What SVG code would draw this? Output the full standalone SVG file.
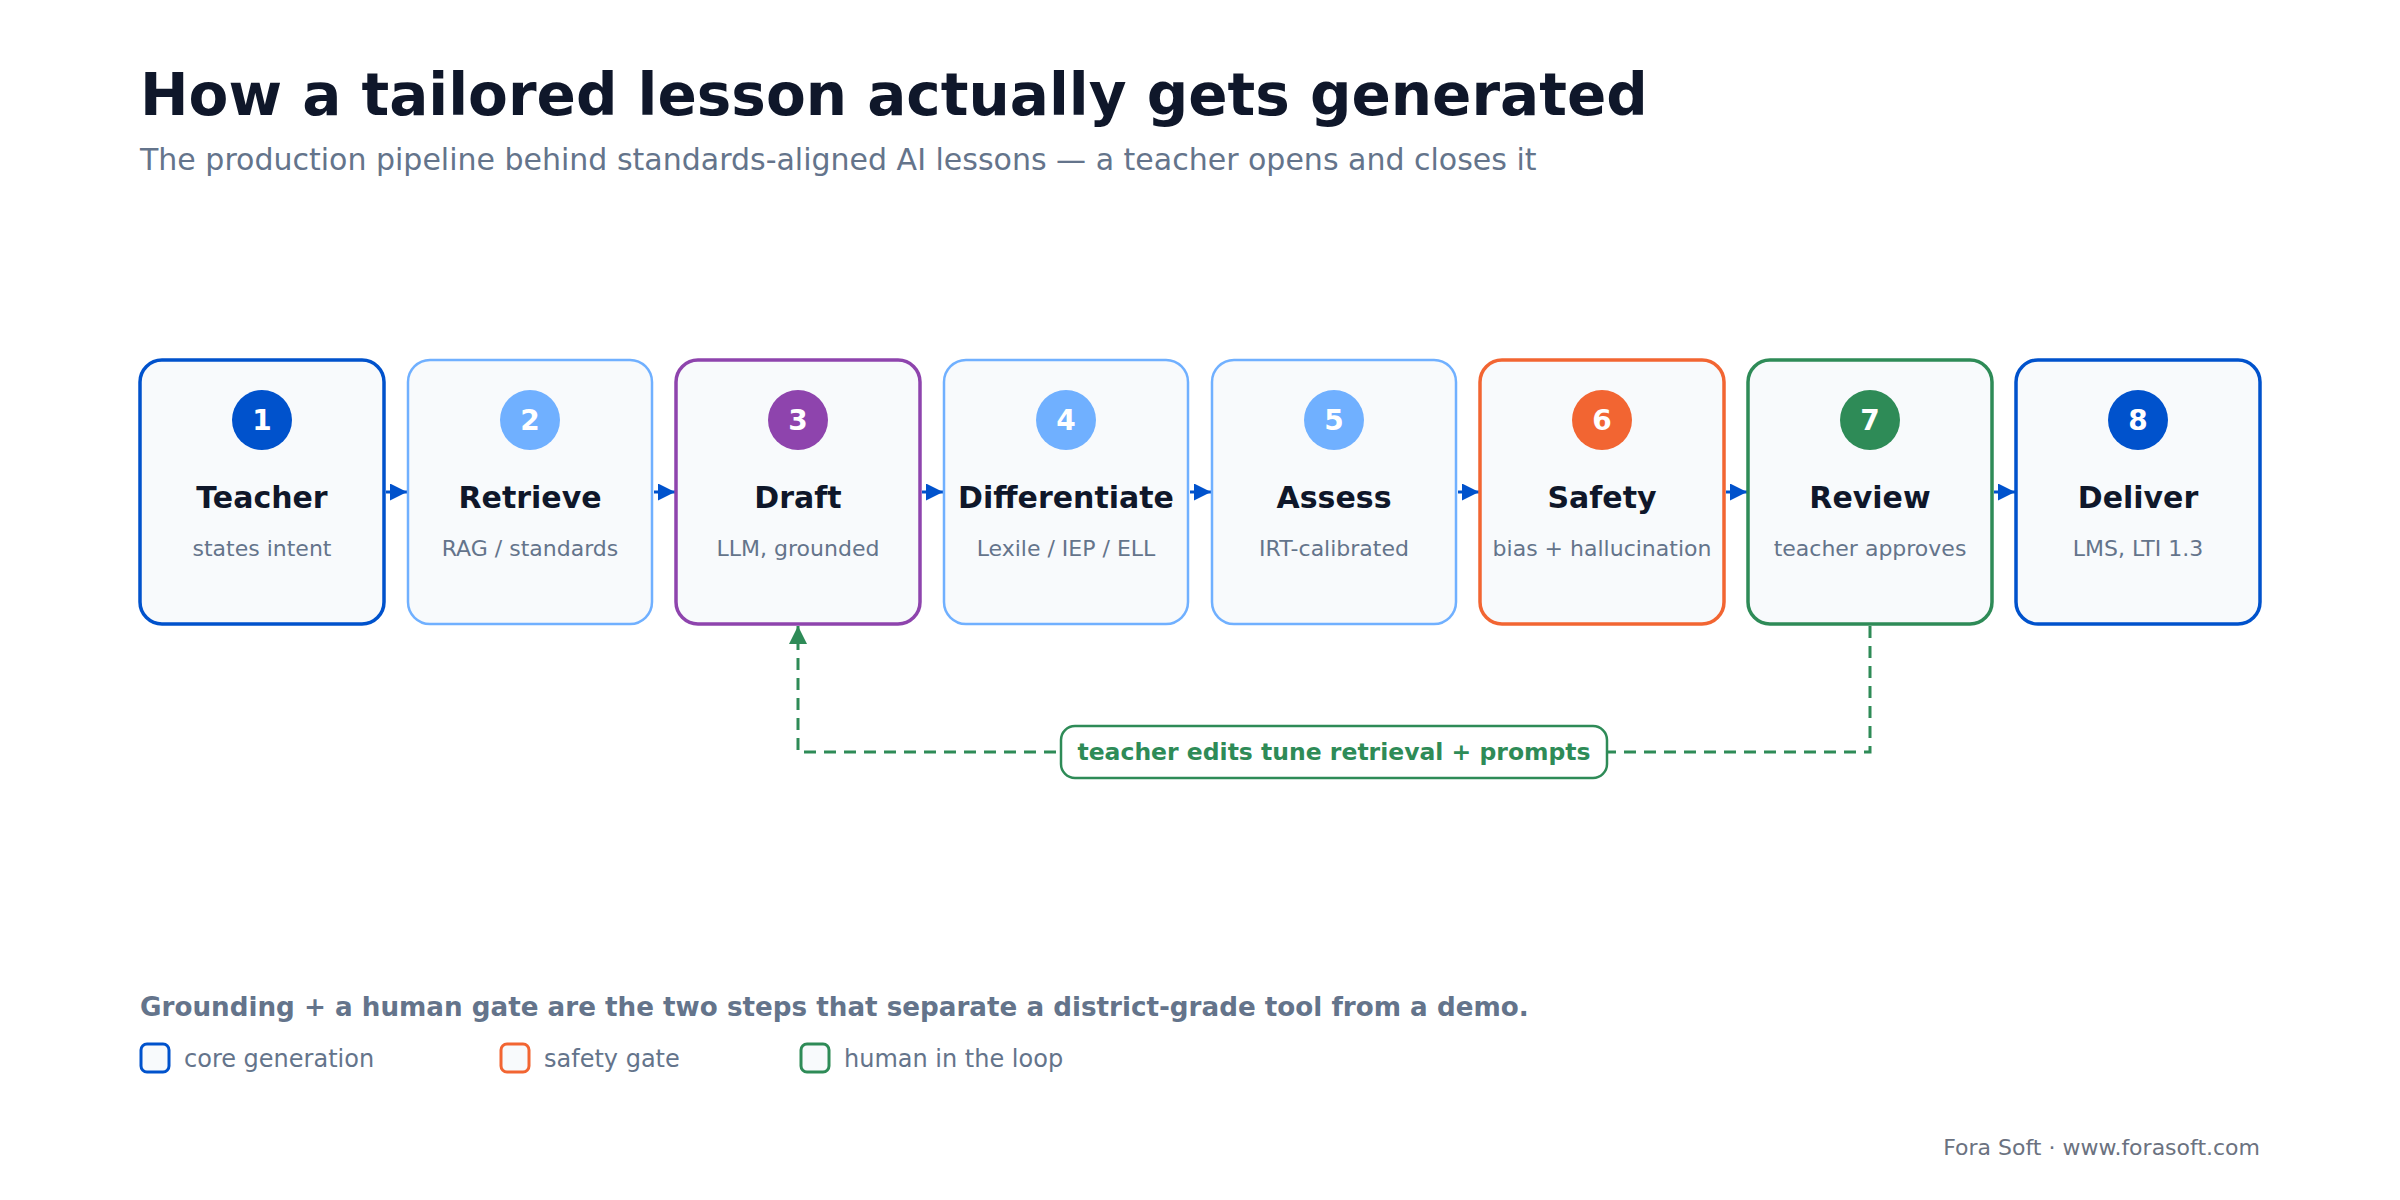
<svg xmlns="http://www.w3.org/2000/svg" width="2400" height="1200" viewBox="0 0 2400 1200">
  <style>
    text { font-family: "DejaVu Sans", "Liberation Sans", sans-serif; }
    .title { font-size: 58px; font-weight: bold; fill: #0f172a; }
    .subtitle { font-size: 30px; fill: #64748b; }
    .box { fill: #f8fafc; }
    .strong { stroke-width: 3.5; }
    .light { stroke-width: 2.5; }
    .num { font-size: 28px; font-weight: bold; fill: #ffffff; text-anchor: middle; }
    .name { font-size: 30px; font-weight: bold; fill: #0f172a; text-anchor: middle; }
    .sub { font-size: 22px; fill: #64748b; text-anchor: middle; }
    .flow { stroke: #0052cc; stroke-width: 3; fill: none; }
    .loop { stroke: #2e8b57; stroke-width: 3; fill: none; stroke-dasharray: 12 8; }
    .looplabel { font-size: 23.5px; font-weight: bold; fill: #2e8b57; text-anchor: middle; }
    .note { font-size: 26.2px; font-weight: bold; fill: #64748b; }
    .legend { font-size: 24px; fill: #64748b; }
    .credit { font-size: 22px; fill: #6b7280; text-anchor: end; }
    .blue { stroke: #0052cc; }
    .lblue { stroke: #70b0ff; }
    .purple { stroke: #8e44ad; }
    .orange { stroke: #f26532; }
    .green { stroke: #2e8b57; }
  </style>
  <defs>
    <marker id="arrowBlue" viewBox="0 0 10 10" refX="10" refY="5" markerWidth="17" markerHeight="17" markerUnits="userSpaceOnUse" orient="auto">
      <path d="M0,0 L10,5 L0,10 z" fill="#0052cc"/>
    </marker>
    <marker id="arrowGreen" viewBox="0 0 10 10" refX="10" refY="5" markerWidth="18" markerHeight="18" markerUnits="userSpaceOnUse" orient="auto">
      <path d="M0,0 L10,5 L0,10 z" fill="#2e8b57"/>
    </marker>
  </defs>

  <rect x="0" y="0" width="2400" height="1200" fill="#ffffff"/>

  <g id="header">
    <text class="title" x="140" y="115">How a tailored lesson actually gets generated</text>
    <text class="subtitle" x="140" y="170">The production pipeline behind standards-aligned AI lessons — a teacher opens and closes it</text>
  </g>

  <g id="connectors">
    <line class="flow" x1="386" y1="492" x2="407" y2="492" marker-end="url(#arrowBlue)"/>
    <line class="flow" x1="654" y1="492" x2="675" y2="492" marker-end="url(#arrowBlue)"/>
    <line class="flow" x1="922" y1="492" x2="943" y2="492" marker-end="url(#arrowBlue)"/>
    <line class="flow" x1="1190" y1="492" x2="1211" y2="492" marker-end="url(#arrowBlue)"/>
    <line class="flow" x1="1458" y1="492" x2="1479" y2="492" marker-end="url(#arrowBlue)"/>
    <line class="flow" x1="1726" y1="492" x2="1747" y2="492" marker-end="url(#arrowBlue)"/>
    <line class="flow" x1="1994" y1="492" x2="2015" y2="492" marker-end="url(#arrowBlue)"/>
    <path class="loop" d="M1870,626 V752 H798 V626" marker-end="url(#arrowGreen)"/>
    <g id="loop-label">
      <rect x="1061" y="726" width="546" height="52" rx="14" fill="#ffffff" stroke="#2e8b57" stroke-width="2.5"/>
      <text class="looplabel" x="1334" y="760">teacher edits tune retrieval + prompts</text>
    </g>
  </g>

  <g id="node-teacher">
    <rect class="box blue strong" x="140" y="360" width="244" height="264" rx="22"/>
    <circle cx="262" cy="420" r="30" fill="#0052cc"/>
    <text class="num" x="262" y="430">1</text>
    <text class="name" x="262" y="508">Teacher</text>
    <text class="sub" x="262" y="556">states intent</text>
  </g>
  <g id="node-retrieve">
    <rect class="box lblue light" x="408" y="360" width="244" height="264" rx="22"/>
    <circle cx="530" cy="420" r="30" fill="#70b0ff"/>
    <text class="num" x="530" y="430">2</text>
    <text class="name" x="530" y="508">Retrieve</text>
    <text class="sub" x="530" y="556">RAG / standards</text>
  </g>
  <g id="node-draft">
    <rect class="box purple strong" x="676" y="360" width="244" height="264" rx="22"/>
    <circle cx="798" cy="420" r="30" fill="#8e44ad"/>
    <text class="num" x="798" y="430">3</text>
    <text class="name" x="798" y="508">Draft</text>
    <text class="sub" x="798" y="556">LLM, grounded</text>
  </g>
  <g id="node-differentiate">
    <rect class="box lblue light" x="944" y="360" width="244" height="264" rx="22"/>
    <circle cx="1066" cy="420" r="30" fill="#70b0ff"/>
    <text class="num" x="1066" y="430">4</text>
    <text class="name" x="1066" y="508">Differentiate</text>
    <text class="sub" x="1066" y="556">Lexile / IEP / ELL</text>
  </g>
  <g id="node-assess">
    <rect class="box lblue light" x="1212" y="360" width="244" height="264" rx="22"/>
    <circle cx="1334" cy="420" r="30" fill="#70b0ff"/>
    <text class="num" x="1334" y="430">5</text>
    <text class="name" x="1334" y="508">Assess</text>
    <text class="sub" x="1334" y="556">IRT-calibrated</text>
  </g>
  <g id="node-safety">
    <rect class="box orange strong" x="1480" y="360" width="244" height="264" rx="22"/>
    <circle cx="1602" cy="420" r="30" fill="#f26532"/>
    <text class="num" x="1602" y="430">6</text>
    <text class="name" x="1602" y="508">Safety</text>
    <text class="sub" x="1602" y="556">bias + hallucination</text>
  </g>
  <g id="node-review">
    <rect class="box green strong" x="1748" y="360" width="244" height="264" rx="22"/>
    <circle cx="1870" cy="420" r="30" fill="#2e8b57"/>
    <text class="num" x="1870" y="430">7</text>
    <text class="name" x="1870" y="508">Review</text>
    <text class="sub" x="1870" y="556">teacher approves</text>
  </g>
  <g id="node-deliver">
    <rect class="box blue strong" x="2016" y="360" width="244" height="264" rx="22"/>
    <circle cx="2138" cy="420" r="30" fill="#0052cc"/>
    <text class="num" x="2138" y="430">8</text>
    <text class="name" x="2138" y="508">Deliver</text>
    <text class="sub" x="2138" y="556">LMS, LTI 1.3</text>
  </g>

  <g id="footer">
    <text class="note" x="140" y="1016">Grounding + a human gate are the two steps that separate a district-grade tool from a demo.</text>
    <rect class="box blue" x="141" y="1044" width="28" height="28" rx="6" stroke-width="3"/>
    <text class="legend" x="184" y="1067">core generation</text>
    <rect class="box orange" x="501" y="1044" width="28" height="28" rx="6" stroke-width="3"/>
    <text class="legend" x="544" y="1067">safety gate</text>
    <rect class="box green" x="801" y="1044" width="28" height="28" rx="6" stroke-width="3"/>
    <text class="legend" x="844" y="1067">human in the loop</text>
    <text class="credit" x="2260" y="1155">Fora Soft · www.forasoft.com</text>
  </g>
</svg>
